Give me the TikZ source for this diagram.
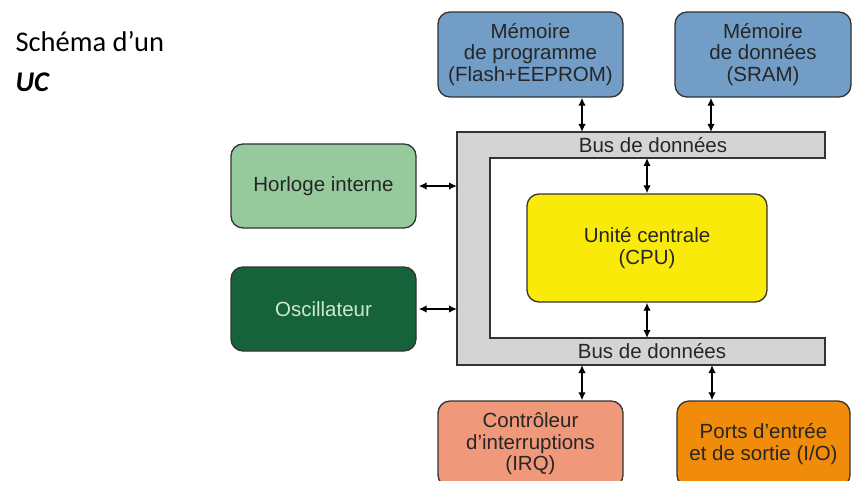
\documentclass[tikz,border=0pt]{standalone}
\usepackage{fontspec}
\setmainfont{Liberation Sans}
\newfontfamily\calibri{Carlito}
\usetikzlibrary{arrows.meta}

\definecolor{memoire}{RGB}{114,157,199}
\definecolor{horloge}{RGB}{150,202,156}
\definecolor{oscill}{RGB}{22,98,58}
\definecolor{oscilltxt}{RGB}{205,232,205}
\definecolor{cpu}{RGB}{250,234,10}
\definecolor{irq}{RGB}{240,152,122}
\definecolor{ports}{RGB}{240,140,10}
\definecolor{bus}{RGB}{212,212,212}

\begin{document}
\begin{tikzpicture}[x=1pt,y=-1pt,
    bloc/.style={draw=black!80, line width=1.3pt, rounded corners=12pt, align=center,
      font=\fontsize{20.5}{21.5}\selectfont, text=black!85, inner sep=0pt},
    liaison/.style={{Latex[length=8pt,width=7.5pt]}-{Latex[length=8pt,width=7.5pt]}, line width=1.6pt},
    etiq/.style={font=\fontsize{20.5}{21.5}\selectfont, text=black!85}]
  \useasboundingbox (0,0) rectangle (853,481);
  \clip (0,0) rectangle (853,481);

  \node[anchor=base west, font=\calibri\fontsize{28.5}{32}\selectfont] (titre) at (12,52) {Schéma d’un};
  \node[anchor=base west, font=\calibri\fontsize{28.5}{32}\selectfont\bfseries\itshape] (uc) at (12,92) {UC};

  \fill[bus, draw=black!80, line width=1.3pt] (825,132) -- (457,132) -- (457,365) -- (825,365)
    -- (825,338) -- (490,338) -- (490,158) -- (825,158) -- cycle;
  \node[etiq] (bushaut) at (653,145) {Bus de données};
  \node[etiq] (busbas) at (652,351) {Bus de données};

  \node[bloc, fill=memoire, minimum width=185pt, minimum height=85pt] (memprog) at (530.5,54.5)
    {Mémoire\\de programme\\(Flash+EEPROM)};
  \node[bloc, fill=memoire, minimum width=176pt, minimum height=85pt] (memdon) at (763,54.5)
    {Mémoire\\de données\\(SRAM)};
  \node[bloc, fill=horloge, minimum width=185pt, minimum height=84pt] (horl) at (323.5,186)
    {Horloge interne};
  \node[bloc, fill=oscill, text=oscilltxt, minimum width=185pt, minimum height=84pt] (osc) at (323.5,309)
    {Oscillateur};
  \node[bloc, fill=cpu, minimum width=240pt, minimum height=108pt] (cpu) at (647,248)
    {Unité centrale\\(CPU)};
  \node[bloc, fill=irq, minimum width=185pt, minimum height=86pt] (irq) at (530.5,444)
    {Contrôleur\\d’interruptions\\(IRQ)};
  \node[bloc, fill=ports, minimum width=173pt, minimum height=86pt] (ports) at (763.5,444)
    {Ports d’entrée\\et de sortie (I/O)};

  \coordinate (b1) at (582,132);
  \coordinate (b2) at (711,132);
  \coordinate (b3) at (647,158);
  \coordinate (b4) at (647,338);
  \coordinate (b5) at (582,365);
  \coordinate (b6) at (712,365);
  \coordinate (bg) at (457,0);

  \draw[liaison] (b1) -- (b1 |- memprog.south);
  \draw[liaison] (b2) -- (b2 |- memdon.south);
  \draw[liaison] (cpu.north) -- (b3);
  \draw[liaison] (cpu.south) -- (b4);
  \draw[liaison] (b5) -- (b5 |- irq.north);
  \draw[liaison] (b6) -- (b6 |- ports.north);
  \draw[liaison] ([xshift=2pt]horl.east) -- (horl.east -| bg);
  \draw[liaison] ([xshift=2pt]osc.east) -- (osc.east -| bg);
\end{tikzpicture}
\end{document}
